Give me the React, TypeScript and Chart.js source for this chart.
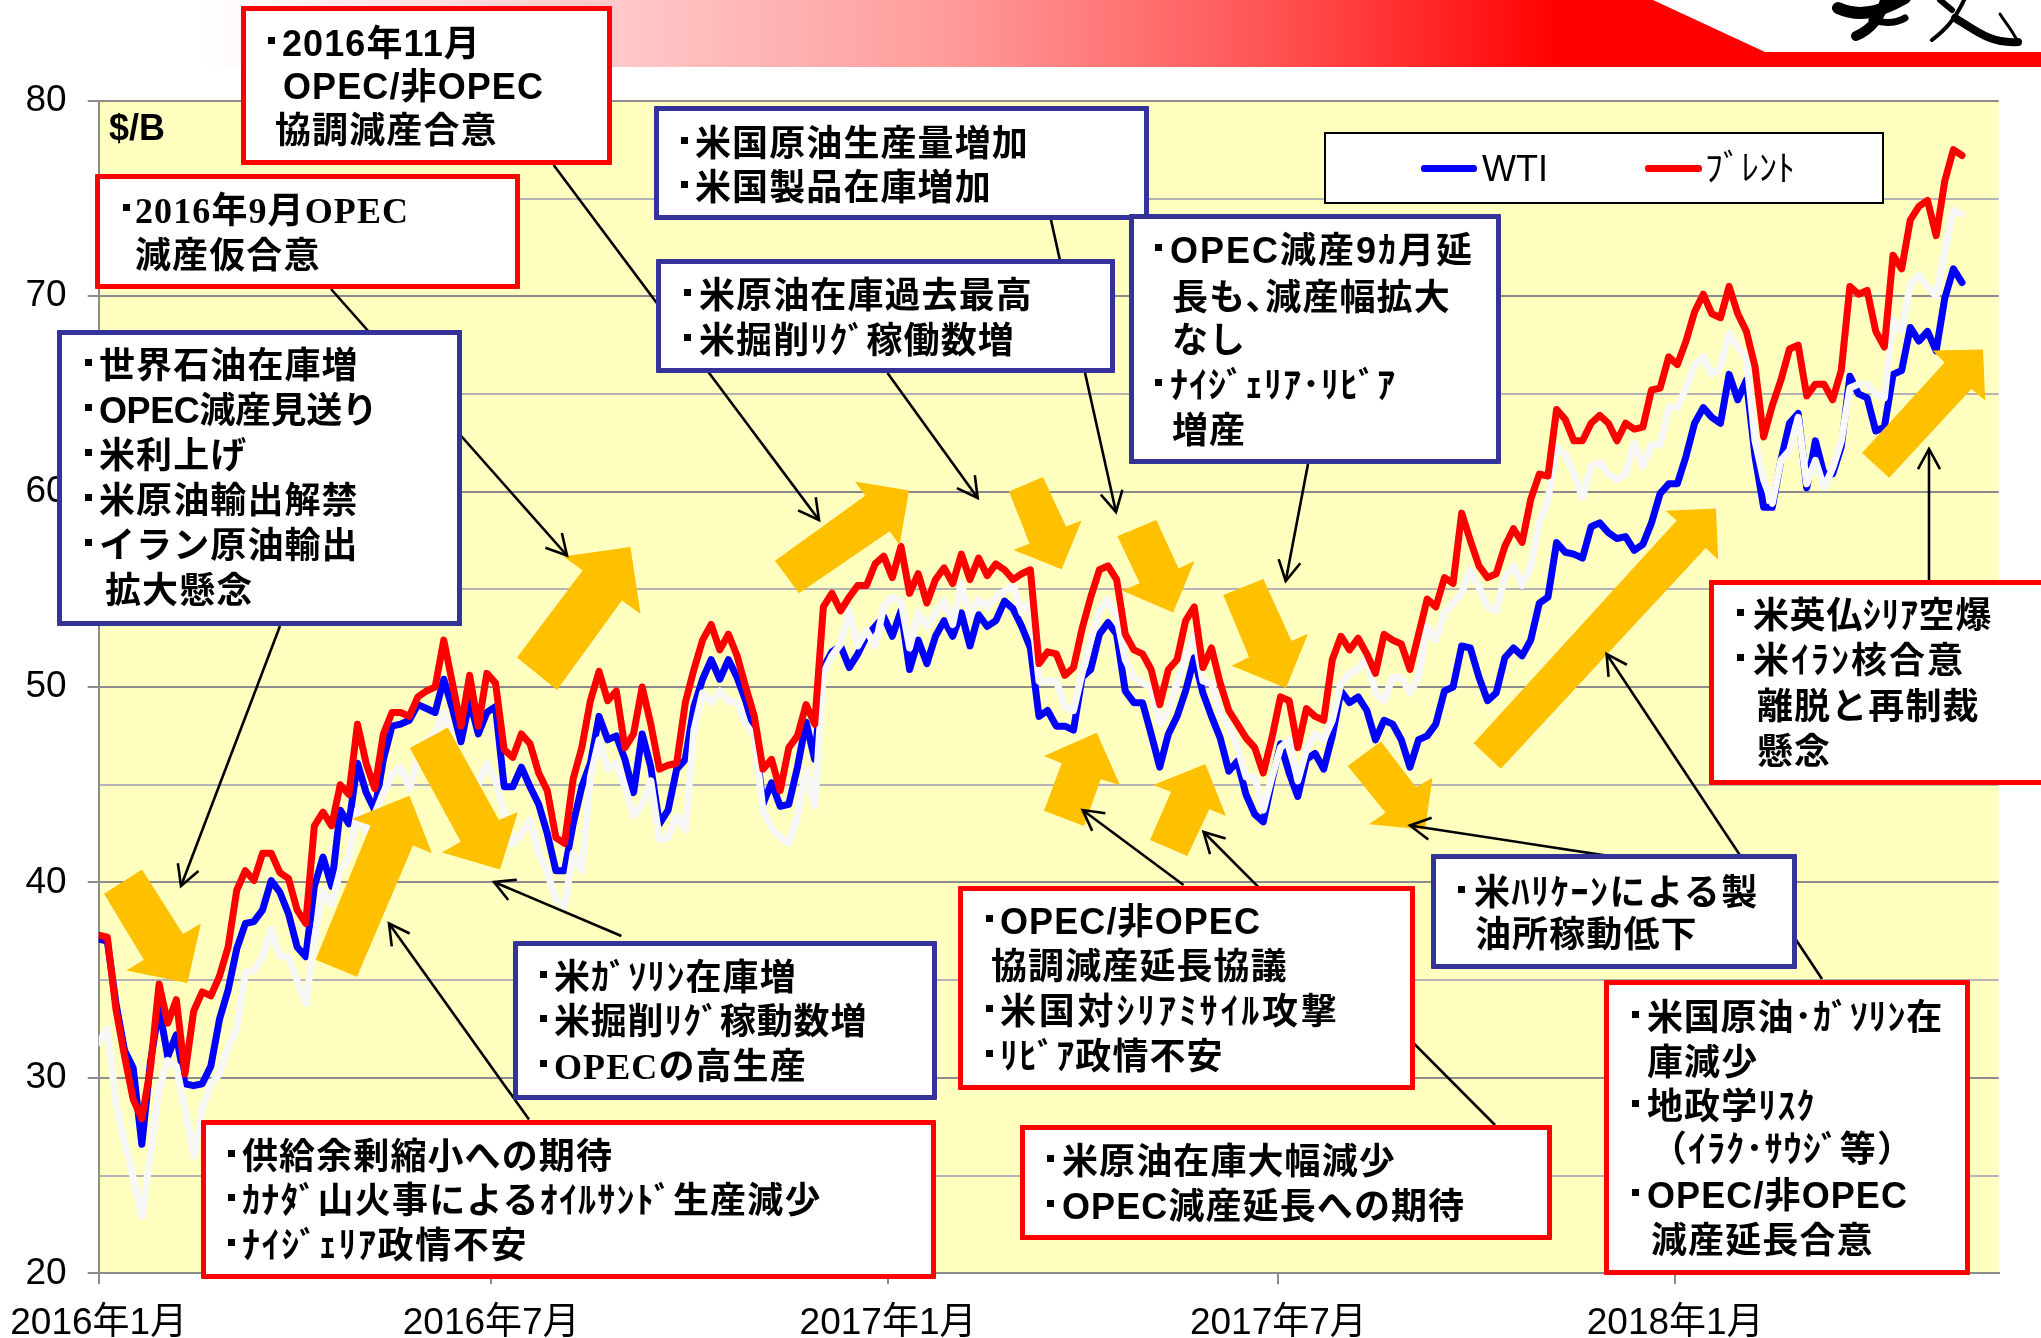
import React, { useEffect, useRef } from "react";
import { Chart, registerables } from "chart.js";

Chart.register(...registerables);

// ---------- data (one sample every 4 calendar days from 2016-01-01) ----------
const sampleStepDays = 4;
const wti = [
  37.1,37.0,33.8,31.4,30.5,26.6,30.8,33.6,31.1,32.2,
  29.7,29.6,29.7,30.6,33.0,34.5,36.6,37.9,38.0,38.6,
  40.1,39.5,38.4,36.7,36.2,39.8,41.3,39.8,43.7,43.0,
  46.1,44.6,43.7,46.3,48.0,48.1,48.3,49.1,48.9,48.7,
  50.4,48.9,47.2,49.3,47.6,48.7,49.0,44.9,44.9,45.9,
  44.9,44.0,42.5,40.6,40.6,43.0,44.9,46.1,48.5,47.3,
  47.5,46.3,44.6,47.6,45.9,43.0,43.7,45.8,46.3,49.0,
  50.4,51.4,50.4,51.4,50.5,49.3,47.8,44.0,45.1,43.9,
  44.0,45.9,48.2,46.3,51.0,51.8,52.1,51.0,51.7,52.6,
  53.1,53.6,52.6,53.9,50.9,52.4,51.2,52.6,53.4,52.6,
  53.8,52.1,53.7,53.1,53.4,54.4,54.0,53.1,52.0,48.5,
  48.8,48.0,48.0,47.8,50.5,50.9,52.7,53.3,52.7,49.8,
  49.2,49.2,47.6,45.9,47.6,48.5,49.8,51.5,49.7,48.5,
  47.4,45.7,46.2,44.5,43.5,43.1,45.2,47.1,45.6,44.4,
  46.3,46.6,45.8,47.5,49.8,49.2,49.5,48.8,47.3,48.3,
  48.1,47.3,45.9,47.3,47.5,48.1,49.8,50.0,52.1,52.0,
  50.5,49.3,49.7,51.5,52.0,51.6,52.4,54.3,54.6,57.4,
  56.9,56.8,56.6,58.2,58.4,57.9,57.6,57.7,57.0,57.3,
  58.4,59.9,60.4,60.4,61.8,63.5,64.3,63.8,63.5,66.0,
  64.7,65.7,61.8,59.2,59.2,61.6,63.5,64.0,60.2,62.6,
  60.9,60.9,62.3,65.9,65.0,64.8,63.1,63.3,66.0,66.2,
  68.4,67.7,68.2,67.2,69.9,71.4,70.7,
];
const brent = [
  37.3,37.2,33.5,31.1,28.9,27.9,30.5,34.8,32.8,34.0,
  30.2,33.4,34.4,34.2,35.2,36.7,39.6,40.6,40.1,41.5,
  41.5,40.5,40.2,38.6,37.9,42.9,43.6,42.9,45.0,44.5,
  48.1,46.1,44.8,47.6,48.7,48.7,48.5,49.5,49.8,50.0,
  52.4,50.2,48.0,50.6,48.0,50.7,50.2,46.8,46.4,47.6,
  47.1,45.6,44.7,42.3,42.0,45.3,46.9,49.3,50.8,49.3,
  49.8,46.9,47.6,50.0,48.1,45.8,46.0,46.1,49.2,50.9,
  52.4,53.2,51.9,52.7,51.6,50.0,48.5,45.8,46.3,44.7,
  46.9,47.5,49.1,48.1,54.1,54.8,53.9,54.6,55.2,55.2,
  56.3,56.7,55.6,57.2,54.8,55.8,54.3,55.5,56.1,55.3,
  56.8,55.5,56.6,55.7,56.3,56.0,55.5,55.8,56.0,51.2,
  51.8,51.7,50.6,51.0,53.0,54.6,56.0,56.2,55.5,52.7,
  51.9,51.7,50.9,49.1,50.9,51.4,53.4,54.1,51.0,52.0,
  50.2,48.8,48.1,47.4,46.9,45.6,47.4,49.5,49.3,46.9,
  48.9,48.5,48.3,51.4,52.6,51.9,52.5,51.7,50.7,52.7,
  52.4,52.2,50.9,52.7,54.5,54.1,55.6,55.3,58.9,57.5,
  56.2,55.6,55.8,57.2,58.1,57.4,59.6,60.9,60.8,64.2,
  63.7,62.6,62.6,63.5,63.9,63.5,62.6,63.5,63.2,63.3,
  65.2,65.3,66.9,66.5,67.7,69.2,70.1,69.1,68.9,70.5,
  69.1,68.2,66.4,62.8,64.4,65.7,67.3,67.5,64.9,65.5,
  65.5,64.7,66.2,70.5,70.1,70.3,68.2,67.4,72.1,71.4,
  73.9,74.6,74.9,73.1,75.9,77.5,77.2,
];
const whiteLine = [
  31.8,32.5,28.7,26.7,24.9,22.9,26.1,29.4,30.9,30.6,
  28.4,26.0,28.4,29.7,30.2,31.6,32.5,35.4,35.5,36.2,
  37.6,36.2,36.2,35.0,33.8,37.1,39.6,38.9,40.6,41.3,
  43.7,42.6,43.5,44.6,45.5,45.9,44.8,46.3,47.2,47.6,
  48.7,47.2,46.3,45.6,45.0,46.1,45.2,43.6,42.0,42.5,
  43.2,41.5,40.5,39.1,38.8,41.5,40.6,45.4,47.3,45.8,
  46.1,44.9,43.4,44.0,45.2,42.2,42.3,43.4,42.7,47.8,
  49.7,49.2,49.8,49.3,49.2,48.1,47.5,43.7,42.8,42.3,
  42.0,43.4,45.8,43.9,50.7,51.6,52.2,53.9,52.1,52.9,
  52.1,54.1,54.6,54.4,52.0,53.8,53.1,53.8,54.4,53.2,
  55.3,53.6,54.5,54.1,54.6,54.9,55.2,53.8,54.4,50.3,
  50.3,50.3,49.0,48.8,50.7,52.4,53.9,54.5,53.6,51.4,
  50.5,50.2,50.0,48.1,48.8,50.2,51.5,52.7,50.3,50.2,
  48.6,48.0,46.9,45.4,45.4,43.7,45.4,46.9,47.3,45.2,
  46.8,47.6,47.3,48.3,50.2,50.7,50.9,51.6,49.7,49.3,
  50.5,50.5,49.7,50.5,53.1,52.4,53.8,54.3,54.8,56.0,
  55.1,54.1,53.9,55.6,56.2,55.2,56.2,58.4,59.6,62.3,
  61.9,60.9,59.7,61.3,61.5,60.9,60.6,60.9,62.5,61.3,
  62.4,62.4,64.3,64.3,65.3,66.5,66.9,66.0,66.4,68.1,
  67.4,66.9,62.6,60.6,59.4,61.6,62.1,63.8,60.4,61.6,
  60.2,61.2,62.6,65.3,65.5,65.5,65.0,64.8,68.8,68.2,
  70.6,71.1,70.5,70.0,72.3,74.4,74.2,
];
const xTickDays = [0, 182, 366, 547, 731];
const xTickLabels = ["2016年1月", "2016年7月", "2017年1月", "2017年7月", "2018年1月"];
const xMaxDays = 881;
const yMin = 20;
const yMax = 80;
const yStep = 5;
const unitLabel = "$/B";
const seriesNames = ["WTI", "ﾌﾞﾚﾝﾄ"];

// ---------- annotation layout (page pixels) ----------
const RED = "#FF0000";
const NAVY = "#333399";
const ORANGE = "#FFC000";
const SANS = "'Liberation Sans','Noto Sans CJK JP',sans-serif";
const SERIF = "'Liberation Serif','Noto Sans CJK JP',serif";

type Line = { x: number; y: number; t: string; b?: number; serif?: boolean; ls?: number };
type Box = { l: number; t: number; r: number; b: number; c: string; lines: Line[] };

const boxes: Box[] = [
  { l: 241, t: 6, r: 612, b: 165, c: RED, lines: [
    { x: 282, y: 43, t: "2016年11月", b: 268 },
    { x: 283, y: 86, t: "OPEC/非OPEC" },
    { x: 275, y: 130, t: "協調減産合意" },
  ]},
  { l: 95, t: 174, r: 520, b: 289, c: RED, lines: [
    { x: 135, y: 210, t: "2016年9月OPEC", b: 123, serif: true },
    { x: 135, y: 255, t: "減産仮合意" },
  ]},
  { l: 57, t: 330, r: 462, b: 626, c: NAVY, lines: [
    { x: 99, y: 365, t: "世界石油在庫増", b: 85 },
    { x: 99, y: 410, t: "OPEC減産見送り", b: 85, ls: -0.4 },
    { x: 99, y: 455, t: "米利上げ", b: 85 },
    { x: 99, y: 500, t: "米原油輸出解禁", b: 85 },
    { x: 99, y: 545, t: "イラン原油輸出", b: 85 },
    { x: 105, y: 590, t: "拡大懸念" },
  ]},
  { l: 654, t: 106, r: 1149, b: 220, c: NAVY, lines: [
    { x: 695, y: 143, t: "米国原油生産量増加", b: 681 },
    { x: 695, y: 187, t: "米国製品在庫増加", b: 681 },
  ]},
  { l: 656, t: 259, r: 1115, b: 373, c: NAVY, lines: [
    { x: 699, y: 295, t: "米原油在庫過去最高", b: 684 },
    { x: 699, y: 340, t: "米掘削ﾘｸﾞ稼働数増", b: 684 },
  ]},
  { l: 1129, t: 214, r: 1501, b: 464, c: NAVY, lines: [
    { x: 1170, y: 250, t: "OPEC減産9ｶ月延", b: 1155, ls: 2 },
    { x: 1172, y: 297, t: "長も､減産幅拡大" },
    { x: 1172, y: 340, t: "なし" },
    { x: 1170, y: 385, t: "ﾅｲｼﾞｪﾘｱ･ﾘﾋﾞｱ", b: 1155, ls: 1 },
    { x: 1172, y: 430, t: "増産" },
  ]},
  { l: 1709, t: 580, r: 2060, b: 785, c: RED, lines: [
    { x: 1753, y: 615, t: "米英仏ｼﾘｱ空爆", b: 1737, ls: 0.6 },
    { x: 1753, y: 660, t: "米ｲﾗﾝ核合意", b: 1737, ls: 2 },
    { x: 1757, y: 706, t: "離脱と再制裁" },
    { x: 1757, y: 751, t: "懸念" },
  ]},
  { l: 1431, t: 854, r: 1797, b: 969, c: NAVY, lines: [
    { x: 1474, y: 892, t: "米ﾊﾘｹｰﾝによる製", b: 1458, ls: 1.6 },
    { x: 1475, y: 934, t: "油所稼動低下" },
  ]},
  { l: 1604, t: 980, r: 1970, b: 1275, c: RED, lines: [
    { x: 1647, y: 1017, t: "米国原油･ｶﾞｿﾘﾝ在", b: 1632, ls: 0.8 },
    { x: 1647, y: 1062, t: "庫減少" },
    { x: 1647, y: 1106, t: "地政学ﾘｽｸ", b: 1632 },
    { x: 1651, y: 1149, t: "（ｲﾗｸ･ｻｳｼﾞ等）" },
    { x: 1647, y: 1195, t: "OPEC/非OPEC", b: 1632 },
    { x: 1651, y: 1240, t: "減産延長合意" },
  ]},
  { l: 1020, t: 1125, r: 1552, b: 1240, c: RED, lines: [
    { x: 1062, y: 1161, t: "米原油在庫大幅減少", b: 1047 },
    { x: 1062, y: 1206, t: "OPEC減産延長への期待", b: 1047 },
  ]},
  { l: 958, t: 886, r: 1415, b: 1090, c: RED, lines: [
    { x: 1000, y: 921, t: "OPEC/非OPEC", b: 986 },
    { x: 991, y: 966, t: "協調減産延長協議" },
    { x: 1000, y: 1011, t: "米国対ｼﾘｱﾐｻｲﾙ攻撃", b: 986, ls: 2.8 },
    { x: 1000, y: 1056, t: "ﾘﾋﾞｱ政情不安", b: 986 },
  ]},
  { l: 513, t: 941, r: 937, b: 1100, c: NAVY, lines: [
    { x: 554, y: 977, t: "米ｶﾞｿﾘﾝ在庫増", b: 540 },
    { x: 554, y: 1021, t: "米掘削ﾘｸﾞ稼動数増", b: 540, ls: 0.8 },
    { x: 554, y: 1066, t: "OPECの高生産", b: 540, serif: true },
  ]},
  { l: 201, t: 1120, r: 936, b: 1279, c: RED, lines: [
    { x: 242, y: 1156, t: "供給余剰縮小への期待", b: 228 },
    { x: 242, y: 1200, t: "ｶﾅﾀﾞ山火事によるｵｲﾙｻﾝﾄﾞ生産減少", b: 228, ls: 1.2 },
    { x: 242, y: 1245, t: "ﾅｲｼﾞｪﾘｱ政情不安", b: 228, ls: 1.6 },
  ]},
];

const blockArrows: number[][] = [
  [104,893.7,142,869.4,183,934,200.9,923.5,187.5,983,126.3,970.4,143.8,959.7],
  [315.6,959.7,370.5,825.5,351.8,819,409.4,795.7,432,853.2,413,845.5,357,976.8],
  [409.8,748,447.8,727.5,499,820,517.9,811.9,500,869.4,442,852.4,460.7,841.7],
  [517,657.6,582.6,570.5,563.4,556.4,630.4,547,640.6,614,621.9,600.4,557,690],
  [775,560.7,865.2,495.7,854.9,481.6,909,490.6,899.6,544.9,889.7,531.2,799,593.2],
  [1009,491.5,1042.9,476.9,1066,526.5,1081.7,520.5,1061.6,569.2,1013.4,550,1029.5,543.6],
  [1117.4,536.3,1156.3,520,1178.6,568.4,1194.6,560.7,1173.2,612.4,1121.9,590.6,1139.7,583.3],
  [1223.2,594.9,1263.4,579,1291.5,641,1308,633.8,1286,688,1231.7,665.7,1249,657],
  [1044,810.7,1061.7,763.3,1044,756,1096.7,732.7,1120,785,1100.7,779.3,1084,826],
  [1150,840,1171,791.7,1153.3,785,1205.3,764,1226,816,1209.3,809.3,1187.3,856],
  [1347.7,765.9,1381,741.6,1416,787.2,1432.5,777.8,1425,829.8,1368.7,824.2,1385.6,812.7],
  [1473.6,743.3,1676.7,520.5,1665.5,510.7,1716,508.5,1718.2,559.8,1705.7,547.9,1500.8,768.8],
  [1862,453,1944.6,362.4,1932.5,350.4,1983,349.6,1985.2,400.4,1971.4,388.9,1889.2,477.8],
];

const thinArrows: number[][] = [
  [280,626,181,886],
  [331,289,567,555.5],
  [553.6,165,819,520],
  [887.5,373,977.7,498],
  [1051,220,1116,512],
  [1308,464,1285.7,581],
  [1929,580,1929,449],
  [1613,856.6,1410,825.5],
  [1822,979,1606.6,654],
  [1495,1125,1203.6,832],
  [1183.5,885,1082.6,810],
  [621.4,936,494,882],
  [529,1119.5,389,923.5],
];

function head(x1: number, y1: number, x2: number, y2: number) {
  const a = Math.atan2(y2 - y1, x2 - x1);
  const L = 23;
  const s = 0.5;
  return `M${x2 + L * Math.cos(a + Math.PI - s)},${y2 + L * Math.sin(a + Math.PI - s)} L${x2},${y2} L${x2 + L * Math.cos(a + Math.PI + s)},${y2 + L * Math.sin(a + Math.PI + s)}`;
}

const pts = (ys: number[]) => ys.map((y, i) => ({ x: i * sampleStepDays, y }));

const plotBackground = {
  id: "plotBackground",
  beforeDraw(chart: any) {
    const { ctx, chartArea: a } = chart;
    ctx.save();
    ctx.fillStyle = "#FFFFC0";
    ctx.fillRect(a.left, a.top, a.right - a.left, a.bottom - a.top);
    ctx.restore();
  },
};

const textBase: React.CSSProperties = {
  position: "absolute",
  transform: "translateY(-50%)",
  whiteSpace: "pre",
  fontWeight: 700,
  fontSize: 36,
  lineHeight: "40px",
  letterSpacing: "1.1px",
  color: "#000",
};

const lineStyle = { borderWidth: 7, pointRadius: 0, tension: 0, borderJoinStyle: "round", borderCapStyle: "round" };

export default function App() {
  const ref = useRef<HTMLCanvasElement>(null);
  useEffect(() => {
    document.documentElement.lang = "ja";
    const chart = new Chart(ref.current as HTMLCanvasElement, {
      type: "line",
      data: {
        datasets: [
          { label: seriesNames[1], data: pts(brent), borderColor: RED, order: 1, ...lineStyle },
          { label: "", data: pts(whiteLine), borderColor: "#F8F8F8", order: 2, ...lineStyle },
          { label: seriesNames[0], data: pts(wti), borderColor: "#0000FF", order: 3, ...lineStyle },
        ],
      } as any,
      plugins: [plotBackground],
      options: {
        animation: false,
        responsive: false,
        maintainAspectRatio: false,
        layout: { padding: { top: 100.8, right: 42.3, bottom: 0, left: 0 } },
        plugins: { legend: { display: false }, title: { display: false }, tooltip: { enabled: false } },
        scales: {
          x: {
            type: "linear",
            min: 0,
            max: xMaxDays,
            afterFit(s: any) { s.height = 64.7; s.paddingLeft = 0; s.paddingRight = 0; },
            afterBuildTicks(s: any) { s.ticks = xTickDays.map((value) => ({ value })); },
            grid: { drawOnChartArea: false, color: "#8C8C8C", lineWidth: 2, tickLength: 11 },
            border: { color: "#8C8C8C", width: 2 },
            ticks: {
              autoSkip: false,
              maxRotation: 0,
              padding: 17,
              color: "#000",
              font: { family: SANS, size: 37 },
              callback: (v: any) => xTickLabels[xTickDays.indexOf(Number(v))] ?? "",
            },
          },
          y: {
            type: "linear",
            min: yMin,
            max: yMax,
            afterFit(s: any) { s.width = 98.7; s.paddingTop = 0; s.paddingBottom = 0; },
            grid: {
              color: (c: any) => (c.tick && c.tick.value % 10 === 0 ? "#8C8C8C" : "#B4B4B4"),
              tickColor: (c: any) => (c.tick && c.tick.value % 10 === 0 ? "#8C8C8C" : "rgba(0,0,0,0)"),
              lineWidth: 2,
              tickLength: 11,
            },
            border: { color: "#8C8C8C", width: 2 },
            ticks: {
              stepSize: yStep,
              padding: 21,
              color: "#000",
              font: { family: SANS, size: 37 },
              callback: (v: any) => (Number(v) % 10 === 0 ? String(v) : ""),
            },
          },
        },
      } as any,
    });
    return () => chart.destroy();
  }, []);

  return (
    <div style={{ position: "absolute", left: 0, top: 0, width: 2041, height: 1338, overflow: "hidden", background: "#fff" }}>
      <canvas ref={ref} width={2041} height={1338} style={{ position: "absolute", left: 0, top: 0, display: "block" }} />
      <svg width={2041} height={1338} style={{ position: "absolute", left: 0, top: 0 }}>
        <defs>
          <linearGradient id="band" gradientUnits="userSpaceOnUse" x1="0" y1="0" x2="2041" y2="0">
            <stop offset={200 / 2041} stopColor="#FFFFFF" />
            <stop offset={612 / 2041} stopColor="#FFC9C9" />
            <stop offset={950 / 2041} stopColor="#FF9B9B" />
            <stop offset={1250 / 2041} stopColor="#FF5858" />
            <stop offset={1400 / 2041} stopColor="#FF3030" />
            <stop offset={1560 / 2041} stopColor="#FF0000" />
          </linearGradient>
        </defs>
        <polygon points="0,0 1653,0 1765,52 2041,52 2041,67 0,67" fill="url(#band)" />
        <g fill="none" stroke="#000" strokeLinecap="round">
          <path d="M1838,8 C1860,18 1880,12 1905,-2" strokeWidth={12} />
          <path d="M1885,0 C1880,20 1870,30 1856,36" strokeWidth={10} />
          <path d="M1872,20 C1885,24 1895,24 1905,18" strokeWidth={7} />
          <path d="M1932,40 C1945,30 1955,20 1965,-2" strokeWidth={4} />
          <path d="M1940,0 L1952,10" strokeWidth={6} />
          <path d="M1955,18 C1975,30 1990,44 2018,42" strokeWidth={8} />
          <path d="M2018,42 C2012,30 2005,22 2000,14" strokeWidth={3} />
        </g>
        {blockArrows.map((p, i) => (
          <polygon key={i} points={p.join(",")} fill={ORANGE} />
        ))}
        {thinArrows.map(([x1, y1, x2, y2], i) => (
          <g key={i} fill="none" stroke="#000" strokeWidth={2.6}>
            <line x1={x1} y1={y1} x2={x2} y2={y2} />
            <path d={head(x1, y1, x2, y2)} />
          </g>
        ))}
      </svg>
      <div style={{ ...textBase, left: 109, top: 128, fontFamily: SANS, letterSpacing: 0 }}>{unitLabel}</div>
      {/* legend */}
      <div style={{ position: "absolute", left: 1324, top: 132, width: 560, height: 72, boxSizing: "border-box", border: "2px solid #000", background: "#fff" }} />
      <div style={{ position: "absolute", left: 1421, top: 165, width: 56, height: 6.5, borderRadius: 3, background: "#0000FF" }} />
      <div style={{ ...textBase, left: 1482, top: 169, fontWeight: 400, fontFamily: SANS, letterSpacing: 0 }}>{seriesNames[0]}</div>
      <div style={{ position: "absolute", left: 1645, top: 165, width: 57, height: 6.5, borderRadius: 3, background: RED }} />
      <div style={{ ...textBase, left: 1705, top: 169, fontWeight: 400, fontFamily: SANS, letterSpacing: 0 }}>{seriesNames[1]}</div>
      {/* callouts */}
      {boxes.map((b, i) => (
        <React.Fragment key={i}>
          <div style={{ position: "absolute", left: b.l, top: b.t, width: b.r - b.l, height: b.b - b.t, boxSizing: "border-box", border: `5.5px solid ${b.c}`, borderRadius: 1, background: "#fff" }} />
          {b.lines.map((ln, j) => (
            <React.Fragment key={j}>
              {ln.b !== undefined && (
                <div style={{ position: "absolute", left: ln.b, top: ln.y - 6, width: 7, height: 7, background: "#000" }} />
              )}
              <div style={{ ...textBase, left: ln.x, top: ln.y + 1, fontFamily: ln.serif ? SERIF : SANS, ...(ln.ls !== undefined ? { letterSpacing: `${ln.ls}px` } : {}) }}>{ln.t}</div>
            </React.Fragment>
          ))}
        </React.Fragment>
      ))}
    </div>
  );
}
